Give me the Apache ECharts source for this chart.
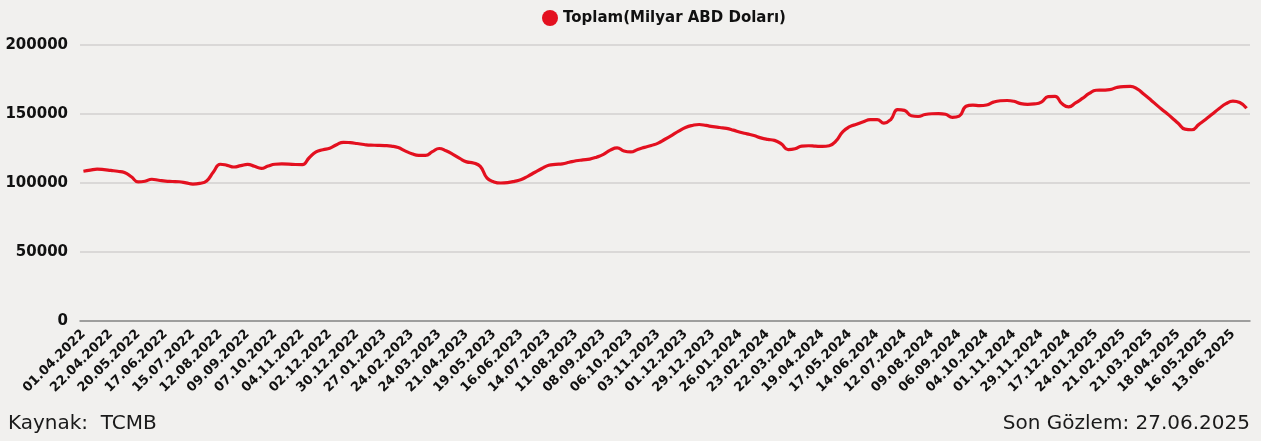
<!DOCTYPE html>
<html>
<head>
<meta charset="utf-8">
<script src="https://cdn.jsdelivr.net/npm/echarts@6/dist/echarts.min.js"></script>
<style>
html, body { margin: 0; padding: 0; background: #f1f0ee; }
#chart { width: 1261px; height: 441px; }
</style>
</head>
<body>
<div id="chart"></div>
<script>
// etiketli tarihler (her 4 haftada bir)
var tickLabels = ['01.04.2022','22.04.2022','20.05.2022','17.06.2022','15.07.2022','12.08.2022','09.09.2022','07.10.2022','04.11.2022','02.12.2022','30.12.2022','27.01.2023','24.02.2023','24.03.2023','21.04.2023','19.05.2023','16.06.2023','14.07.2023','11.08.2023','08.09.2023','06.10.2023','03.11.2023','01.12.2023','29.12.2023','26.01.2024','23.02.2024','22.03.2024','19.04.2024','17.05.2024','14.06.2024','12.07.2024','09.08.2024','06.09.2024','04.10.2024','01.11.2024','29.11.2024','17.12.2024','24.01.2025','21.02.2025','21.03.2025','18.04.2025','16.05.2025','13.06.2025'];
var lastDates = ['20.06.2025','27.06.2025'];

// Toplam (Milyar ABD Doları), haftalık
var toplam = [
108500,109300,110000,109700,109100,108500,107600,104500,100800,101300,
102700,102000,101300,101100,100900,100100,99200,99700,101500,108000,
113600,112800,111600,112600,113500,112100,110600,112300,113600,113800,
113700,113400,113300,118300,122600,124100,125200,127700,129500,129200,
128600,127900,127400,127300,127100,126700,125700,123300,121200,120000,
120000,122700,125000,123300,120800,117800,115300,114500,112000,103500,
100800,100000,100300,101200,102500,105000,107800,110500,112800,113500,
113900,115000,116100,116700,117300,118700,120700,123800,125400,123200,
122500,124300,125800,127200,128900,131700,134600,137600,140200,141700,
142400,141700,140800,140200,139600,138300,136800,135600,134400,132700,
131600,130900,128300,124200,124800,126700,127000,126700,126500,127000,
130500,137300,140800,142600,144400,145900,145900,143400,146000,153200,
152600,148700,148200,149600,150200,150300,149800,147600,148500,155600,
156500,156000,156500,158600,159600,159800,159200,157500,157000,157300,
158600,162600,162800,157600,155200,158000,161300,164900,167200,167300,
167600,169200,169900,170000,168200,164300,160200,155900,151800,147700,
143300,139000,138600,142300,146000,150000,154000,157500,159300,158300,
154200
];

function fmt(d) {
    var dd = ('0' + d.getDate()).slice(-2), mm = ('0' + (d.getMonth() + 1)).slice(-2);
    return dd + '.' + mm + '.' + d.getFullYear();
}
var categories = [];
tickLabels.forEach(function (t, k) {
    categories.push(t);
    if (k < tickLabels.length - 1) {
        var p = t.split('.');
        var base = new Date(+p[2], +p[1] - 1, +p[0]);
        for (var w = 1; w <= 3; w++) {
            categories.push(fmt(new Date(base.getTime() + w * 7 * 86400000)));
        }
    }
});
categories = categories.concat(lastDates);

var font = '"DejaVu Sans", sans-serif';
var chart = echarts.init(document.getElementById('chart'));
chart.setOption({
    backgroundColor: '#f1f0ee',
    textStyle: { fontFamily: font },
    legend: {
        left: 537, top: 5,
        icon: 'circle', itemWidth: 16, itemHeight: 16, itemGap: 8,
        textStyle: { fontFamily: font, fontWeight: 'bold', fontSize: 15, color: '#111' },
        data: ['Toplam(Milyar ABD Doları)']
    },
    grid: { left: 80, right: 11, top: 45, bottom: 120 },
    xAxis: {
        type: 'category',
        data: categories,
        boundaryGap: true,
        axisLine: { lineStyle: { color: '#8a8a8a', width: 1.5 } },
        axisTick: { show: false },
        axisLabel: {
            interval: 3, rotate: 45, margin: 11,
            fontFamily: font, fontWeight: 'bold', fontSize: 13, color: '#111'
        }
    },
    yAxis: {
        type: 'value',
        min: 0, max: 200000, interval: 50000,
        axisLine: { show: false },
        axisTick: { show: false },
        splitLine: { lineStyle: { color: '#d2d1cf', width: 1.5 } },
        axisLabel: {
            margin: 12, fontFamily: font, fontWeight: 'bold', fontSize: 15, color: '#111',
            formatter: function (v) { return String(v); }
        }
    },
    series: [{
        name: 'Toplam(Milyar ABD Doları)',
        type: 'line',
        data: toplam,
        smooth: true,
        showSymbol: false,
        itemStyle: { color: '#e3101f' },
        lineStyle: { color: '#e3101f', width: 3.2 }
    }],
    graphic: [
        { type: 'text', left: 8, top: 414, style: { text: 'Kaynak:  TCMB', font: '20px ' + font, fill: '#1a1a1a' } },
        { type: 'text', right: 11, top: 414, style: { text: 'Son Gözlem: 27.06.2025', font: '20px ' + font, fill: '#1a1a1a' } }
    ]
});
</script>
</body>
</html>
